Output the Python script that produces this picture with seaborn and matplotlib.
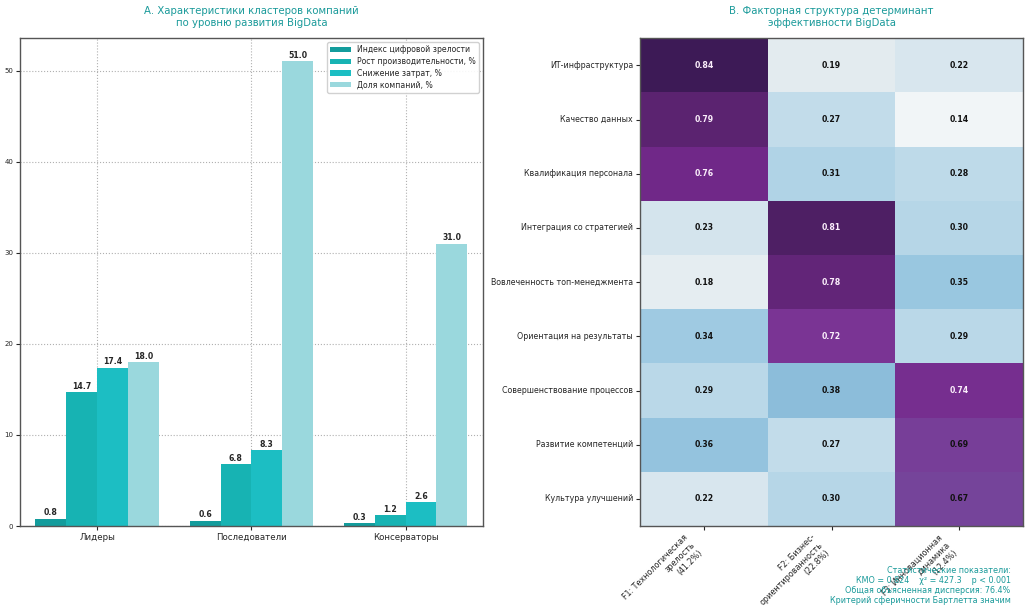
import numpy as np
import pandas as pd
import matplotlib
matplotlib.use("Agg")
import matplotlib.pyplot as plt
from matplotlib.colors import LinearSegmentedColormap
import seaborn as sns

# ---- data ----
clusters = ["Лидеры", "Последователи", "Консерваторы"]
metrics = ["Индекс цифровой зрелости", "Рост производительности, %",
           "Снижение затрат, %", "Доля компаний, %"]
maturity = [0.8, 0.6, 0.3]
productivity = [14.7, 6.8, 1.2]
costs = [17.4, 8.3, 2.6]
share = [18.0, 51.0, 31.0]

factors_rows = ["ИТ-инфраструктура", "Качество данных", "Квалификация персонала",
                "Интеграция со стратегией", "Вовлеченность топ-менеджмента",
                "Ориентация на результаты", "Совершенствование процессов",
                "Развитие компетенций", "Культура улучшений"]
factor_cols = ["F1: Технологическая\nзрелость\n(41.2%)",
               "F2: Бизнес-\nориентированность\n(22.8%)",
               "F3: Инновационная\nдинамика\n(12.4%)"]
f1 = [0.84, 0.79, 0.76, 0.23, 0.18, 0.34, 0.29, 0.36, 0.22]
f2 = [0.19, 0.27, 0.31, 0.81, 0.78, 0.72, 0.38, 0.27, 0.30]
f3 = [0.22, 0.14, 0.28, 0.30, 0.35, 0.29, 0.74, 0.69, 0.67]

stats_text = ("Статистические показатели:\n"
              "КМО = 0.824    χ² = 427.3    p < 0.001\n"
              "Общая объясненная дисперсия: 76.4%\n"
              "Критерий сферичности Бартлетта значим")

bar_colors = ["#139c9c", "#17b3b3", "#1cbec3", "#9ad8dd"]
teal = "#1a9a9a"

# colormap (style): light grey-blue -> blue -> purple -> dark indigo
VMIN, VMAX = 0.1, 0.9
anchors = [(0.10, "#f8fafb"), (0.14, "#f1f5f7"), (0.19, "#e2ebef"),
           (0.23, "#d4e4ed"), (0.27, "#c2dcea"), (0.31, "#b0d3e6"),
           (0.35, "#98c6e0"), (0.38, "#8cbdda"), (0.52, "#7f84bd"),
           (0.67, "#75449a"), (0.72, "#7a3494"), (0.76, "#72288a"),
           (0.79, "#5b2370"), (0.84, "#3d1a56"), (0.90, "#2c0f42")]
cmap = LinearSegmentedColormap.from_list(
    "loadings", [((v - VMIN) / (VMAX - VMIN), c) for v, c in anchors])

sns.set_style("white")
plt.rcParams['font.family'] = ['DejaVu Sans']

fig = plt.figure(figsize=(10.28, 6.12), dpi=100)
ax1 = fig.add_axes([0.0195, 0.1405, 0.450, 0.797])
ax2 = fig.add_axes([0.6226, 0.1405, 0.3726, 0.797])

# ---- bar chart ----
rows = []
for i, c in enumerate(clusters):
    for m, vals in zip(metrics, [maturity, productivity, costs, share]):
        rows.append({"cluster": c, "metric": m, "value": vals[i]})
df = pd.DataFrame(rows)

sns.barplot(data=df, x="cluster", y="value", hue="metric", hue_order=metrics,
            palette=bar_colors, saturation=1, width=0.8, ax=ax1, errorbar=None,
            linewidth=0, edgecolor="none")
for cont in ax1.containers:
    ax1.bar_label(cont, fmt="%.1f", fontsize=5.6, fontweight="bold", padding=1)

ax1.set_xlabel("")
ax1.set_ylabel("")
ax1.set_yticks([0, 10, 20, 30, 40, 50])
ax1.tick_params(axis="y", labelsize=5, length=3, width=0.8, left=True, pad=2)
ax1.tick_params(axis="x", labelsize=6.2, length=3, width=0.8, bottom=True, pad=2)
ax1.grid(True, linestyle=":", color="#b0b0b0", linewidth=0.8)
ax1.set_axisbelow(True)
for s in ax1.spines.values():
    s.set_visible(True)
    s.set_color("#555555")
    s.set_linewidth(1.0)
leg = ax1.legend(loc="upper right", fontsize=5.6, frameon=True, framealpha=0.9,
                 handlelength=2.6, borderpad=0.4, labelspacing=0.35)
leg.get_frame().set_edgecolor("#cccccc")
ax1.set_title("А. Характеристики кластеров компаний\nпо уровню развития BigData",
              fontsize=7.3, color=teal, pad=9)

# ---- heatmap ----
hm = pd.DataFrame({factor_cols[0]: f1, factor_cols[1]: f2, factor_cols[2]: f3},
                  index=factors_rows)
sns.heatmap(hm, annot=True, fmt=".2f", cmap=cmap, vmin=VMIN, vmax=VMAX,
            cbar=False, ax=ax2, annot_kws={"fontsize": 5.6, "fontweight": "bold"})
vals = hm.values.flatten()
for t, v in zip(ax2.texts, vals):
    t.set_color("#fbeefb" if v > 0.7 else "#111111")
ax2.tick_params(axis="y", labelsize=5.7, length=3, left=True, rotation=0, pad=2)
ax2.tick_params(axis="x", labelsize=5.8, length=3, bottom=True, pad=2)
plt.setp(ax2.get_xticklabels(), rotation=45, ha="right")
for s in ax2.spines.values():
    s.set_visible(True)
    s.set_color("#555555")
    s.set_linewidth(1.0)
ax2.set_title("В. Факторная структура детерминант\nэффективности BigData",
              fontsize=7.3, color=teal, pad=9)

fig.text(0.983, 0.012, stats_text, ha="right", va="bottom", fontsize=5.8,
         color=teal, linespacing=1.15)

fig.savefig("out.png", dpi=100)
